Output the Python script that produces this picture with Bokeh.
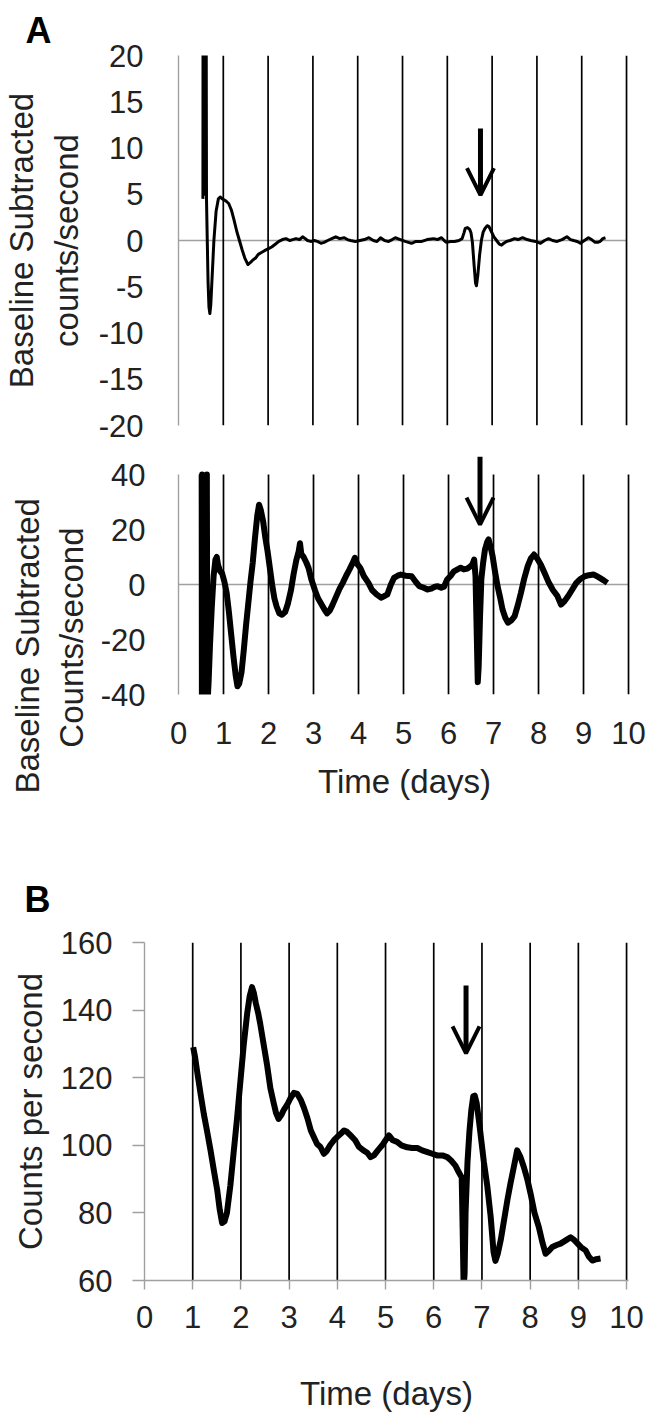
from bokeh.plotting import figure
from bokeh.models import FixedTicker, Arrow, OpenHead, Range1d
from bokeh.embed import file_html
from bokeh.resources import INLINE

FONT = "Liberation Sans"
TXT = "#222222"
GRAY = "#a0a0a0"

# ---------------- data ----------------
day_lines = [1, 2, 3, 4, 5, 6, 7, 8, 9, 10]
x_ticks = [0, 1, 2, 3, 4, 5, 6, 7, 8, 9, 10]
a1_ticks = [-20, -15, -10, -5, 0, 5, 10, 15, 20]
a2_ticks = [-40, -20, 0, 20, 40]
b_ticks = [60, 80, 100, 120, 140, 160]

a1_days = [0.545, 0.55, 0.56, 0.57, 0.58, 0.59, 0.60, 0.61, 0.625, 0.64,
           0.66, 0.68, 0.70, 0.72, 0.75, 0.79, 0.84, 0.89, 0.93, 0.98,
           1.05, 1.12, 1.18, 1.24, 1.30, 1.36, 1.42, 1.48, 1.55, 1.60,
           1.66, 1.72, 1.78, 1.85, 1.92, 2.00, 2.08, 2.16, 2.24, 2.32,
           2.40, 2.48, 2.55, 2.62, 2.70, 2.77, 2.83, 2.88, 2.95, 3.03,
           3.10, 3.18, 3.25, 3.33, 3.42, 3.51, 3.60, 3.70, 3.77, 3.84,
           3.95, 4.05, 4.15, 4.25, 4.35, 4.43, 4.51, 4.60, 4.69, 4.77,
           4.84, 4.95, 5.06, 5.13, 5.20, 5.30, 5.43, 5.55, 5.69, 5.78,
           5.87, 5.93, 5.98, 6.07, 6.16, 6.26, 6.33, 6.37, 6.40, 6.45,
           6.50, 6.53, 6.56, 6.60, 6.63, 6.65, 6.68, 6.72, 6.76, 6.80,
           6.84, 6.89, 6.93, 6.98, 7.04, 7.10, 7.16, 7.21, 7.26, 7.32,
           7.40, 7.50, 7.58, 7.68, 7.78, 7.86, 7.97, 8.08, 8.17, 8.26,
           8.35, 8.45, 8.56, 8.67, 8.75, 8.82, 8.90, 8.97, 9.06, 9.15,
           9.22, 9.30, 9.36, 9.41, 9.47, 9.53]
a1_counts = [4.5, 45, 5, 45, 5, 45, 5, 45, 4.5, 0.5,
             -4.5, -7.2, -7.9, -7.0, -4.0, 0.0, 3.2, 4.5, 4.7, 4.5,
             4.3, 4.0, 3.3, 2.2, 1.0, 0.0, -1.0, -1.9, -2.6, -2.4,
             -2.1, -1.9, -1.5, -1.3, -1.1, -0.9, -0.7, -0.4, -0.1, 0.1,
             0.2, 0.0, 0.1, 0.2, 0.1, 0.4, 0.2, 0.0, -0.1, 0.0,
             -0.1, -0.3, -0.2, 0.0, 0.2, 0.4, 0.2, 0.3, 0.1, 0.0,
             -0.1, 0.0, 0.1, 0.3, 0.0, -0.1, 0.3, 0.0, -0.1, 0.1,
             0.3, 0.1, -0.1, -0.2, -0.3, -0.1, -0.1, 0.1, 0.2, 0.1,
             0.3, 0.0, -0.2, -0.1, -0.1, 0.0, 0.2, 0.8, 1.3, 1.4,
             1.2, 0.8, -0.2, -2.8, -4.6, -4.9, -3.8, -1.6, 0.0, 0.9,
             1.3, 1.6, 1.5, 1.0, 0.4, 0.0, -0.4, -0.5, -0.3, -0.1,
             0.0, 0.2, 0.1, 0.3, 0.1, 0.0, -0.1, -0.3, 0.0, 0.2,
             0.0, -0.1, 0.1, 0.4, 0.1, 0.0, -0.1, -0.3, 0.0, 0.3,
             0.1, -0.2, -0.2, -0.1, 0.2, 0.3]

a2_days = [0.515, 0.52, 0.525, 0.53, 0.625, 0.63, 0.64, 0.67, 0.70, 0.74,
           0.78, 0.82, 0.85, 0.88, 0.92, 0.97, 1.02, 1.07, 1.12, 1.17,
           1.22, 1.27, 1.31, 1.35, 1.40, 1.45, 1.50, 1.55, 1.60, 1.65,
           1.70, 1.75, 1.79, 1.83, 1.88, 1.93, 1.98, 2.03, 2.08, 2.13,
           2.18, 2.24, 2.30, 2.37, 2.43, 2.50, 2.56, 2.62, 2.67, 2.70,
           2.73, 2.78, 2.84, 2.89, 2.95, 3.03, 3.10, 3.17, 3.24, 3.30,
           3.36, 3.42, 3.50, 3.58, 3.65, 3.72, 3.80, 3.86, 3.92, 3.97,
           4.04, 4.12, 4.22, 4.30, 4.40, 4.50, 4.58, 4.64, 4.72, 4.79,
           4.87, 4.94, 5.05, 5.18, 5.27, 5.35, 5.45, 5.53, 5.62, 5.70,
           5.76, 5.84, 5.90, 5.97, 6.05, 6.12, 6.20, 6.27, 6.34, 6.42,
           6.48, 6.53, 6.57, 6.60, 6.63, 6.65, 6.67, 6.70, 6.73, 6.77,
           6.81, 6.86, 6.89, 6.93, 6.98, 7.03, 7.09, 7.15, 7.20, 7.26,
           7.32, 7.40, 7.47, 7.54, 7.61, 7.68, 7.76, 7.83, 7.90, 7.97,
           8.05, 8.14, 8.23, 8.32, 8.42, 8.50, 8.58, 8.66, 8.75, 8.84,
           8.93, 9.03, 9.12, 9.22, 9.30, 9.36, 9.45, 9.53]
a2_counts = [40, -45, 40, -45, -45, 40, -45, -35, -22, -8,
             3, 9, 10, 7, 5, 4, 1, -3, -10, -18,
             -26, -33, -37, -36, -32, -24, -15, -7, 1, 8,
             17, 25, 29, 27, 23, 17, 12, 6, 0, -5,
             -8, -10.5, -11, -10, -7, -2, 4, 9, 12, 15,
             11, 10, 8, 6, 2, -2, -5, -7, -9, -10.5,
             -9.5, -7.5, -4.5, -1.5, 0.6, 3, 5.5, 7.5, 9.7, 7.5,
             6, 3, 0.6, -2, -3.6, -4.8, -4.2, -3.6, 0, 2.4,
             3.2, 3.6, 3.2, 3, 1, -0.6, -1.2, -1.8, -1.5, -0.8,
             -0.6, -1.2, -0.8, 1.8, 3.2, 4.8, 5.5, 6.1, 5.5, 5.8,
             6.5, 7.3, 9.1, 3, -20, -35.5, -30, -12, 2, 8,
             12.7, 15.5, 16.4, 14, 10.3, 5, -0.6, -5, -9.1, -12,
             -13.9, -13, -11.5, -7.5, -3, 2, 6.7, 9.5, 10.9, 9.5,
             7.3, 4, 0.6, -2, -4.2, -7.3, -6, -4.2, -1.8, 0.6,
             2, 3, 3.4, 3.6, 3, 2.4, 1.5, 0.6]

b_days = [1.01, 1.05, 1.09, 1.16, 1.23, 1.30, 1.37, 1.44, 1.51, 1.56,
          1.61, 1.66, 1.71, 1.78, 1.85, 1.92, 1.99, 2.06, 2.13, 2.18,
          2.23, 2.27, 2.31, 2.36, 2.40, 2.47, 2.54, 2.61, 2.68, 2.73,
          2.78, 2.84, 2.89, 2.96, 3.03, 3.10, 3.17, 3.24, 3.31, 3.38,
          3.45, 3.51, 3.58, 3.65, 3.72, 3.78, 3.85, 3.93, 4.00, 4.07,
          4.14, 4.20, 4.27, 4.37, 4.45, 4.54, 4.62, 4.69, 4.76, 4.84,
          4.93, 5.00, 5.07, 5.15, 5.24, 5.33, 5.45, 5.55, 5.66, 5.76,
          5.87, 5.97, 6.07, 6.18, 6.28, 6.36, 6.45, 6.52, 6.58, 6.60,
          6.62, 6.64, 6.66, 6.70, 6.74, 6.78, 6.82, 6.85, 6.89, 6.94,
          6.99, 7.04, 7.11, 7.18, 7.24, 7.28, 7.33, 7.39, 7.46, 7.53,
          7.59, 7.66, 7.73, 7.80, 7.87, 7.94, 8.01, 8.09, 8.18, 8.25,
          8.32, 8.39, 8.46, 8.55, 8.63, 8.73, 8.84, 8.91, 8.98, 9.06,
          9.15, 9.22, 9.29, 9.37, 9.46]
b_counts = [129, 126, 122, 115.5, 109.3, 104, 98.5, 92.5, 86.6, 81,
            77, 77.5, 80, 88, 98, 108, 119, 130, 139, 144,
            146.8, 145, 142, 139, 136, 130, 124, 117, 112.5, 109.5,
            107.8, 109, 110.5, 112, 114, 115.5, 115.2, 113.5, 111, 108,
            104.4, 102.5, 100.4, 99.5, 97.5, 98.3, 100, 101.5, 102.5, 103.4,
            104.4, 104, 103, 101.5, 99.5, 98.5, 97.8, 96.5, 97, 98.5,
            100, 101.5, 102.9, 101.5, 101, 100, 99.4, 99.2, 99.2, 98.5,
            98, 97.5, 97, 97, 96.5, 95.5, 94, 92, 90.5, 75,
            58, 62, 80, 95, 104, 110.5, 114.5, 114.7, 112.5, 107,
            101, 95, 88, 79, 68.5, 65.8, 68, 72, 78, 84,
            88.6, 93.5, 98.5, 96.5, 93.5, 90, 85.6, 80, 75.8, 71.5,
            67.9, 68.8, 69.9, 70.5, 70.9, 71.8, 72.8, 72, 71, 69.8,
            68.9, 67, 65.9, 66.3, 66.5]

# arrows marking the event (day, start value, end value)
a1_arrow = (6.74, 12.1, 4.9)
a2_arrow = (6.70, 46.5, 21.8)
b_arrow = (6.67, 147.3, 127.2)


def hyphen_labels(ticks):
    return {t: str(t) for t in ticks}


def make_fig(width, height, left, right, top, bottom, xend, yr, title=None, title_location="above"):
    kw = {"title": title, "title_location": title_location} if title is not None else {"title": None}
    p = figure(width=width, height=height, x_range=Range1d(0, xend), y_range=Range1d(*yr),
               output_backend="svg", toolbar_location=None,
               min_border_left=left, min_border_right=right,
               min_border_top=top, min_border_bottom=bottom, **kw)
    p.grid.visible = False
    p.outline_line_color = None
    p.background_fill_color = "white"
    p.border_fill_color = "white"
    for ax in (p.xaxis[0], p.yaxis[0]):
        ax.axis_line_color = GRAY
        ax.axis_line_width = 1.4
        ax.major_tick_line_color = None
        ax.major_tick_out = 0
        ax.major_tick_in = 0
        ax.minor_tick_line_color = None
        ax.minor_tick_out = 0
        ax.minor_tick_in = 0
        ax.major_label_text_font = FONT
        ax.major_label_text_font_size = "31px"
        ax.major_label_text_color = TXT
        ax.axis_label_text_font = FONT
        ax.axis_label_text_font_size = "33px"
        ax.axis_label_text_font_style = "normal"
        ax.axis_label_text_color = TXT
    if title is not None:
        p.title.text_font = FONT
        p.title.align = "left"
    return p


def panel_letter(p, offset, standoff):
    p.title.text_font_size = "36px"
    p.title.text_font_style = "bold"
    p.title.text_color = "black"
    p.title.offset = offset
    p.title.standoff = standoff


def day_grid(p, lo, hi):
    p.segment(x0=day_lines, y0=[lo] * len(day_lines), x1=day_lines, y1=[hi] * len(day_lines),
              line_color="black", line_width=1.7)


def arrow(p, spec):
    x, y0, y1 = spec
    p.add_layout(Arrow(end=OpenHead(size=27, line_width=4, line_color="black"),
                       x_start=x, y_start=y0, x_end=x, y_end=y1,
                       line_width=5, line_color="black"))


# ---------------- panel A (top) ----------------
p1 = make_fig(650, 447, 175, 22, 55, 22, 10.044, (-20, 20), title="A")
panel_letter(p1, -153, 10)
p1.xaxis.visible = False
p1.yaxis.ticker = FixedTicker(ticks=a1_ticks)
p1.yaxis.major_label_overrides = hyphen_labels(a1_ticks)
p1.yaxis.major_label_standoff = 35
p1.yaxis.axis_label = "Baseline Subtracted\ncounts/second"
p1.yaxis.axis_label_standoff = 11
p1.segment(x0=[0], y0=[0], x1=[10], y1=[0], line_color=GRAY, line_width=1.4)
day_grid(p1, -20, 20)
p1.line(a1_days, a1_counts, line_color="black", line_width=3, line_join="round")
arrow(p1, a1_arrow)

# ---------------- panel A (bottom) ----------------
p2 = make_fig(650, 373, 176, 20, 8, 126, 10.044, (-40, 46.91),
              title="Baseline Subtracted\n" + "\u00a0" * 5 + "Counts/second", title_location="left")
p2.title.text_font_size = "33px"
p2.title.text_font_style = "normal"
p2.title.text_color = TXT
p2.title.text_line_height = 1.2
p2.title.offset = -99
p2.title.standoff = 14
p2.yaxis.ticker = FixedTicker(ticks=a2_ticks)
p2.yaxis.bounds = (-40, 40)
p2.yaxis.major_label_overrides = hyphen_labels(a2_ticks)
p2.yaxis.major_label_standoff = 33
p2.xaxis.ticker = FixedTicker(ticks=x_ticks)
p2.xaxis.axis_line_color = None
p2.xaxis.major_label_standoff = 27
p2.xaxis.axis_label = "Time (days)"
p2.xaxis.axis_label_standoff = 16
p2.segment(x0=[0], y0=[0], x1=[10], y1=[0], line_color=GRAY, line_width=1.4)
day_grid(p2, -40, 40)
p2.line(a2_days, a2_counts, line_color="black", line_width=6, line_join="round")
arrow(p2, a2_arrow)

# ---------------- panel B ----------------
p3 = make_fig(650, 606, 144, 22, 122, 146, 10.04, (60, 160), title="B")
panel_letter(p3, -120, 45)
p3.yaxis.ticker = FixedTicker(ticks=b_ticks)
p3.yaxis.major_tick_line_color = GRAY
p3.yaxis.major_tick_line_width = 1.4
p3.yaxis.major_tick_out = 12
p3.yaxis.major_label_standoff = 20
p3.yaxis.axis_label = "Counts per second"
p3.yaxis.axis_label_standoff = 9
p3.xaxis.ticker = FixedTicker(ticks=x_ticks)
p3.xaxis.major_tick_line_color = GRAY
p3.xaxis.major_tick_line_width = 1.4
p3.xaxis.major_tick_out = 9
p3.xaxis.major_label_standoff = 16
p3.xaxis.axis_label = "Time (days)"
p3.xaxis.axis_label_standoff = 44
day_grid(p3, 60, 160)
p3.line(b_days, b_counts, line_color="black", line_width=6, line_join="round")
arrow(p3, b_arrow)

open("out.html", "w").write(file_html([p1, p2, p3], INLINE))
